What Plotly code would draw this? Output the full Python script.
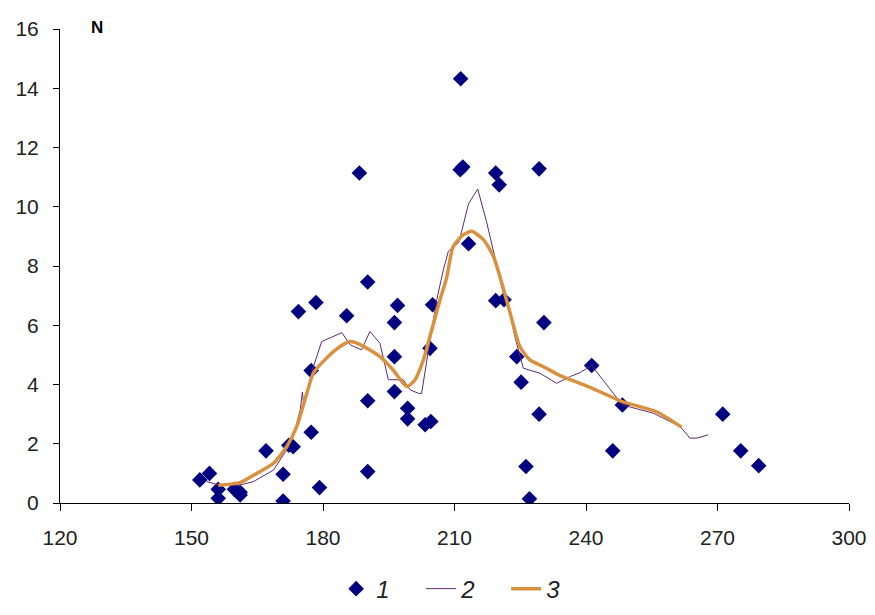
import plotly.graph_objects as go

# Series 1: scatter points
s1_x = [151.9, 154.1, 156.1, 156.1, 159.8, 161.1, 161.1, 167.0, 170.9, 170.9, 172.2, 173.2,
        174.4, 177.3, 177.3, 178.4, 179.2, 185.4, 188.3, 190.2, 190.2, 190.2, 196.3, 196.3,
        196.3, 197.0, 199.3, 199.3, 203.3, 204.6, 204.4, 205.0, 211.4, 211.3, 211.9, 213.2,
        219.4, 220.2, 219.4, 221.3, 224.2, 225.2, 226.3, 227.1, 229.3, 229.3, 230.4, 241.3,
        246.1, 248.3, 271.2, 275.3, 279.4]
s1_y = [0.78, 1.00, 0.46, 0.16, 0.46, 0.36, 0.27, 1.76, 0.97, 0.07, 1.95, 1.90,
        6.46, 4.47, 2.39, 6.77, 0.52, 6.32, 11.14, 7.46, 3.45, 1.06, 6.09, 4.94,
        3.76, 6.67, 3.20, 2.84, 2.64, 2.75, 5.22, 6.69, 14.32, 11.25, 11.34, 8.75,
        11.14, 10.74, 6.83, 6.86, 4.94, 4.08, 1.23, 0.14, 11.28, 3.00, 6.09, 4.64,
        1.76, 3.31, 3.00, 1.76, 1.26]

# Series 2: thin line
s2_x = [153.5, 156.1, 161.1, 164.1, 168.7, 171.7, 173.2, 174.8, 175.3, 175.6, 177.8, 179.7,
        184.3, 186.2, 188.8, 190.7, 193.0, 194.9, 198.3, 199.9, 201.8, 202.5, 204.0, 206.0,
        207.5, 208.6, 211.0, 213.2, 215.3, 217.3, 219.2, 221.1, 222.7, 223.8, 225.7, 229.5,
        233.3, 236.4, 238.6, 241.3, 248.3, 255.4, 261.5, 263.7, 265.3, 267.9]
s2_y = [0.72, 0.61, 0.61, 0.72, 1.11, 1.79, 2.24, 3.14, 3.75, 3.30, 4.60, 5.45,
        5.75, 5.34, 5.17, 5.79, 5.39, 4.16, 4.16, 3.82, 3.70, 3.70, 5.11, 6.90,
        7.90, 8.50, 8.80, 10.10, 10.60, 9.50, 8.30, 7.10, 6.40, 5.60, 4.55, 4.38,
        4.04, 4.27, 4.40, 4.64, 3.31, 3.03, 2.58, 2.19, 2.19, 2.30]

# Series 3: smoothed thick line
s3_x = [156.1, 161.1, 164.9, 168.7, 171.7, 174.0, 176.3, 177.8, 180.8, 183.9, 186.2, 188.6,
        193.0, 196.0, 199.1, 201.0, 202.9, 204.8, 206.7, 208.2, 209.7, 212.0, 213.9, 216.6,
        218.9, 220.8, 222.7, 224.9, 227.2, 230.3, 234.1, 238.6, 241.3, 248.3, 256.1, 261.8]
s3_y = [0.60, 0.69, 1.00, 1.34, 1.90, 2.58, 3.70, 4.38, 4.89, 5.28, 5.45, 5.34,
        4.94, 4.49, 3.93, 4.16, 4.83, 5.84, 6.86, 7.60, 8.66, 9.05, 9.17, 8.89,
        8.32, 7.42, 6.41, 5.28, 4.83, 4.60, 4.30, 4.04, 3.88, 3.42, 3.08, 2.56]

x_ticks = [120, 150, 180, 210, 240, 270, 300]
y_ticks = [0, 2, 4, 6, 8, 10, 12, 14, 16]

fig = go.Figure()
fig.add_trace(go.Scatter(x=s1_x, y=s1_y, mode="markers", name="<i>1</i>",
                         marker=dict(symbol="diamond", size=12, color="#000080")))
fig.add_trace(go.Scatter(x=s2_x, y=s2_y, mode="lines", name="<i>2</i>",
                         line=dict(color="#5E2A72", width=1)))
fig.add_trace(go.Scatter(x=s3_x, y=s3_y, mode="lines", name="<i>3</i>",
                         line=dict(color="#D9913F", width=3.5, shape="spline", smoothing=0.6)))

fig.update_layout(
    width=859, height=599,
    margin=dict(l=52, r=18, t=21, b=104, autoexpand=False),
    paper_bgcolor="white", plot_bgcolor="white",
    font=dict(family="Liberation Sans, Arial, sans-serif", size=21, color="#000000"),
    showlegend=True,
    legend=dict(orientation="h", xref="container", yref="container",
                x=0.382, xanchor="left", y=0.03, yanchor="middle",
                font=dict(size=24, color="#222222"), itemwidth=30, tracegroupgap=0,
                entrywidth=40),
)
fig.add_annotation(text="<b>N</b>", xref="paper", yref="paper", x=0.047, y=1.004,
                   xanchor="center", yanchor="middle", showarrow=False, font=dict(size=17))

fig.update_xaxes(range=[120, 300], tickvals=x_ticks, showgrid=False, zeroline=False,
                 showline=True, linecolor="black", linewidth=1, ticks="outside",
                 ticklen=7, tickcolor="black", ticklabelstandoff=9, automargin=False,
                 ticklabeloverflow="allow", tickfont=dict(color="#222222"))
fig.update_yaxes(range=[0, 16], tickvals=y_ticks, showgrid=False, zeroline=False,
                 showline=True, linecolor="black", linewidth=1, ticks="outside",
                 ticklen=6, tickcolor="black", ticklabelstandoff=10, automargin=False,
                 tickfont=dict(color="#222222"))

fig.write_html("out.html")
